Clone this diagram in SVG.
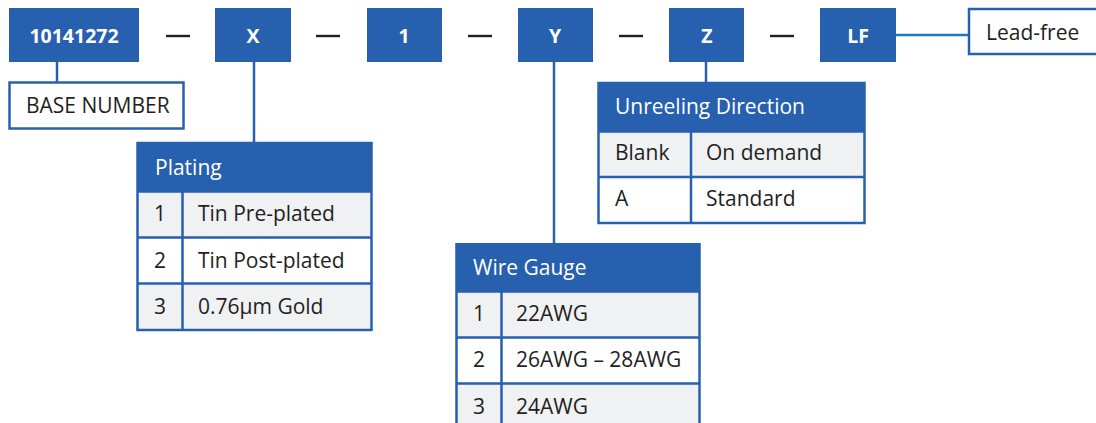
<svg xmlns="http://www.w3.org/2000/svg" width="1096" height="423" viewBox="0 0 1096 423">
<style>
.code{fill:#2760ae}
.codet{font-family:"Open Sans","Noto Sans",sans-serif;font-weight:700;font-size:19.5px;fill:#fff;text-anchor:middle}
.dash{stroke:#231f20;stroke-width:2.4}
.conn{stroke:#2760ae;stroke-width:2.5;fill:none}
.lbl{fill:#fff;stroke:#2760ae;stroke-width:2.5}
.t{font-family:"Open Sans","Noto Sans",sans-serif;font-size:21px;fill:#231f20}
.h{font-family:"Open Sans","Noto Sans",sans-serif;font-size:21px;fill:#fff}
.hdr{fill:#2760ae}
.g{fill:#f0f1f3}
.w{fill:#fff}
.grid{stroke:#2760ae;stroke-width:2.5;fill:none}
</style>
<rect width="1096" height="423" fill="#fff"/>
<g id="connectors">
<line class="conn" x1="57" y1="61" x2="57" y2="83"/>
<line class="conn" x1="254" y1="61" x2="254" y2="144"/>
<line class="conn" x1="554" y1="61" x2="554" y2="244"/>
<line class="conn" x1="706" y1="61" x2="706" y2="84"/>
<line class="conn" x1="895" y1="35" x2="969" y2="35" style="stroke:#1f77bd"/>
</g>
<g id="dashes">
<line class="dash" x1="166" y1="36" x2="190" y2="36"/>
<line class="dash" x1="316" y1="36" x2="340" y2="36"/>
<line class="dash" x1="468" y1="36" x2="492" y2="36"/>
<line class="dash" x1="619" y1="36" x2="643" y2="36"/>
<line class="dash" x1="770" y1="36" x2="794" y2="36"/>
</g>
<g id="code-base"><rect class="code" x="9" y="8" width="130" height="54"/><text class="codet" x="74" y="43">10141272</text></g>
<g id="code-x"><rect class="code" x="215" y="8" width="76" height="54"/><text class="codet" x="253" y="43">X</text></g>
<g id="code-1"><rect class="code" x="367" y="8" width="75" height="54"/><text class="codet" x="404" y="43">1</text></g>
<g id="code-y"><rect class="code" x="518" y="8" width="75" height="54"/><text class="codet" x="555" y="43">Y</text></g>
<g id="code-z"><rect class="code" x="669" y="8" width="75" height="54"/><text class="codet" x="707" y="43">Z</text></g>
<g id="code-lf"><rect class="code" x="820" y="8" width="76" height="54"/><text class="codet" x="858" y="43">LF</text></g>
<g id="lead-free"><rect class="lbl" x="969" y="9" width="140" height="45"/><text class="t" x="986" y="40">Lead-free</text></g>
<g id="base-number"><rect class="lbl" x="9.5" y="82.5" width="174" height="46"/><text class="t" x="26" y="113">BASE NUMBER</text></g>
<g id="plating">
<rect class="hdr" x="137" y="143" width="235" height="48"/>
<rect class="g" x="137" y="191" width="235" height="46"/>
<rect class="w" x="137" y="237" width="235" height="46"/>
<rect class="g" x="137" y="283" width="235" height="47"/>
<path class="grid" d="M137.5 143V330H371.5V143ZM137.5 191.5H371.5M137.5 237.5H371.5M137.5 283.5H371.5M182.5 191V330"/>
<text class="h" x="155" y="175">Plating</text>
<text class="t" x="154" y="221">1</text><text class="t" x="198" y="221">Tin Pre-plated</text>
<text class="t" x="154" y="268">2</text><text class="t" x="198" y="268">Tin Post-plated</text>
<text class="t" x="154" y="314">3</text><text class="t" x="198" y="314">0.76µm Gold</text>
</g>
<g id="wire-gauge">
<rect class="hdr" x="456" y="243" width="244" height="48"/>
<rect class="g" x="456" y="291" width="244" height="46"/>
<rect class="w" x="456" y="337" width="244" height="46"/>
<rect class="g" x="456" y="383" width="244" height="45"/>
<path class="grid" d="M456.5 243V430M699.5 243V430M456.5 291.5H699.5M456.5 337.5H699.5M456.5 383.5H699.5M501.5 291V430"/>
<text class="h" x="473" y="275">Wire Gauge</text>
<text class="t" x="473" y="321">1</text><text class="t" x="516" y="321">22AWG</text>
<text class="t" x="473" y="367">2</text><text class="t" x="516" y="367">26AWG – 28AWG</text>
<text class="t" x="473" y="414">3</text><text class="t" x="516" y="414">24AWG</text>
</g>
<g id="unreeling-direction">
<rect class="hdr" x="598" y="83" width="267" height="48"/>
<rect class="g" x="598" y="131" width="267" height="46"/>
<rect class="w" x="598" y="177" width="267" height="46"/>
<path class="grid" d="M598.5 83V223H864.5V83ZM598.5 131.5H864.5M598.5 177H864.5M691 131V223"/>
<text class="h" x="615" y="114">Unreeling Direction</text>
<text class="t" x="615" y="160">Blank</text><text class="t" x="706" y="160">On demand</text>
<text class="t" x="615" y="206">A</text><text class="t" x="706" y="206">Standard</text>
</g>
</svg>
